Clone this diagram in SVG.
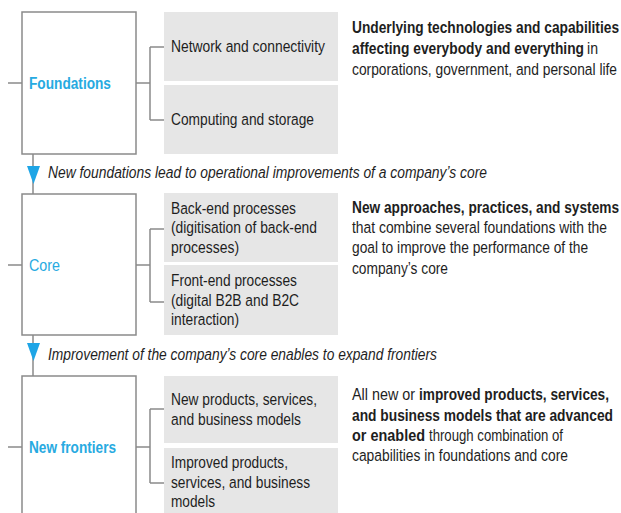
<svg xmlns="http://www.w3.org/2000/svg" width="621" height="513" viewBox="0 0 621 513">
<style>
text{font-family:"Liberation Sans",Arial,sans-serif;font-size:16.5px;fill:#1e1e1e}
.lbl{fill:#27aae1;font-size:17px}
.b{font-weight:bold}
.it{font-style:italic}
.box{fill:#fff;stroke:#8a8a8a;stroke-width:1.5}
.grey{fill:#e6e6e6}
.ln{stroke:#8a8a8a;stroke-width:1.5;fill:none}
.tri{fill:#1ea5e6}
</style>
<rect width="621" height="513" fill="#fff"/>
<g id="connectors">
<path class="ln" d="M8,83H22M136,83H150M150,47V120M150,47H164M150,120H164"/>
<path class="ln" d="M8,265H22M136,265H150M150,229V302M150,229H164M150,302H164"/>
<path class="ln" d="M8,447H22M136,447H150M150,409V483M150,409H164M150,483H164"/>
<path class="ln" d="M33,154V194M33,335V376"/>
<polygon class="tri" points="27,166 40,166 33.5,184"/>
<polygon class="tri" points="27,343 40,343 33.5,361"/>
<text class="it" transform="translate(48,178) scale(0.84,1)" textLength="522.6" lengthAdjust="spacingAndGlyphs">New foundations lead to operational improvements of a company’s core</text>
<text class="it" transform="translate(48,360) scale(0.84,1)" textLength="463.1" lengthAdjust="spacingAndGlyphs">Improvement of the company’s core enables to expand frontiers</text>
</g>
<g id="foundations">
<rect class="box" x="22" y="12" width="114" height="142"/>
<text class="lbl b" transform="translate(29,89) scale(0.84,1)" textLength="97.6" lengthAdjust="spacingAndGlyphs">Foundations</text>
</g>
<g id="network">
<rect class="grey" x="164" y="12" width="174" height="69"/>
<text transform="translate(171,52) scale(0.84,1)" textLength="183.3" lengthAdjust="spacingAndGlyphs">Network and connectivity</text>
</g>
<g id="computing">
<rect class="grey" x="164" y="85" width="174" height="69"/>
<text transform="translate(171,125) scale(0.84,1)" textLength="170.2" lengthAdjust="spacingAndGlyphs">Computing and storage</text>
</g>
<g id="foundations-desc">
<text class="b" transform="translate(352,33) scale(0.84,1)" textLength="317.9" lengthAdjust="spacingAndGlyphs">Underlying technologies and capabilities</text>
<text class="b" transform="translate(352,54) scale(0.84,1)" textLength="276.2" lengthAdjust="spacingAndGlyphs">affecting everybody and everything</text>
<text transform="translate(587,54) scale(0.84,1)" textLength="13.1" lengthAdjust="spacingAndGlyphs">in</text>
<text transform="translate(352,75) scale(0.84,1)" textLength="315.5" lengthAdjust="spacingAndGlyphs">corporations, government, and personal life</text>
</g>
<g id="core">
<rect class="box" x="22" y="194" width="114" height="141"/>
<text class="lbl" transform="translate(29,271) scale(0.84,1)" textLength="36.9" lengthAdjust="spacingAndGlyphs">Core</text>
</g>
<g id="backend">
<rect class="grey" x="164" y="193" width="174" height="69"/>
<text transform="translate(171,214) scale(0.84,1)" textLength="148.8" lengthAdjust="spacingAndGlyphs">Back-end processes</text>
<text transform="translate(171,233) scale(0.84,1)" textLength="173.8" lengthAdjust="spacingAndGlyphs">(digitisation of back-end</text>
<text transform="translate(171,253) scale(0.84,1)" textLength="81" lengthAdjust="spacingAndGlyphs">processes)</text>
</g>
<g id="frontend">
<rect class="grey" x="164" y="265" width="174" height="70"/>
<text transform="translate(171,286) scale(0.84,1)" textLength="150" lengthAdjust="spacingAndGlyphs">Front-end processes</text>
<text transform="translate(171,306) scale(0.84,1)" textLength="152.4" lengthAdjust="spacingAndGlyphs">(digital B2B and B2C</text>
<text transform="translate(171,325) scale(0.84,1)" textLength="81" lengthAdjust="spacingAndGlyphs">interaction)</text>
</g>
<g id="core-desc">
<text class="b" transform="translate(352,213) scale(0.84,1)" textLength="317.9" lengthAdjust="spacingAndGlyphs">New approaches, practices, and systems</text>
<text transform="translate(352,233) scale(0.84,1)" textLength="303.6" lengthAdjust="spacingAndGlyphs">that combine several foundations with the</text>
<text transform="translate(352,253) scale(0.84,1)" textLength="281" lengthAdjust="spacingAndGlyphs">goal to improve the performance of the</text>
<text transform="translate(352,274) scale(0.84,1)" textLength="114.3" lengthAdjust="spacingAndGlyphs">company’s core</text>
</g>
<g id="frontiers">
<rect class="box" x="22" y="376" width="114" height="150"/>
<text class="lbl b" transform="translate(29,453) scale(0.84,1)" textLength="103.6" lengthAdjust="spacingAndGlyphs">New frontiers</text>
</g>
<g id="new-products">
<rect class="grey" x="164" y="376" width="174" height="67"/>
<text transform="translate(171,405) scale(0.84,1)" textLength="173.8" lengthAdjust="spacingAndGlyphs">New products, services,</text>
<text transform="translate(171,425) scale(0.84,1)" textLength="154.8" lengthAdjust="spacingAndGlyphs">and business models</text>
</g>
<g id="improved-products">
<rect class="grey" x="164" y="448" width="174" height="70"/>
<text transform="translate(171,468) scale(0.84,1)" textLength="139.3" lengthAdjust="spacingAndGlyphs">Improved products,</text>
<text transform="translate(171,488) scale(0.84,1)" textLength="165.5" lengthAdjust="spacingAndGlyphs">services, and business</text>
<text transform="translate(171,507) scale(0.84,1)" textLength="52.4" lengthAdjust="spacingAndGlyphs">models</text>
</g>
<g id="frontiers-desc">
<text transform="translate(352,400) scale(0.84,1)" textLength="75" lengthAdjust="spacingAndGlyphs">All new or</text>
<text class="b" transform="translate(419,400) scale(0.84,1)" textLength="226.2" lengthAdjust="spacingAndGlyphs">improved products, services,</text>
<text class="b" transform="translate(352,421) scale(0.84,1)" textLength="310.7" lengthAdjust="spacingAndGlyphs">and business models that are advanced</text>
<text class="b" transform="translate(352,441) scale(0.84,1)" textLength="86.9" lengthAdjust="spacingAndGlyphs">or enabled</text>
<text transform="translate(429,441) scale(0.84,1)" textLength="159.5" lengthAdjust="spacingAndGlyphs">through combination of</text>
<text transform="translate(352,461) scale(0.84,1)" textLength="257.1" lengthAdjust="spacingAndGlyphs">capabilities in foundations and core</text>
</g>
</svg>
